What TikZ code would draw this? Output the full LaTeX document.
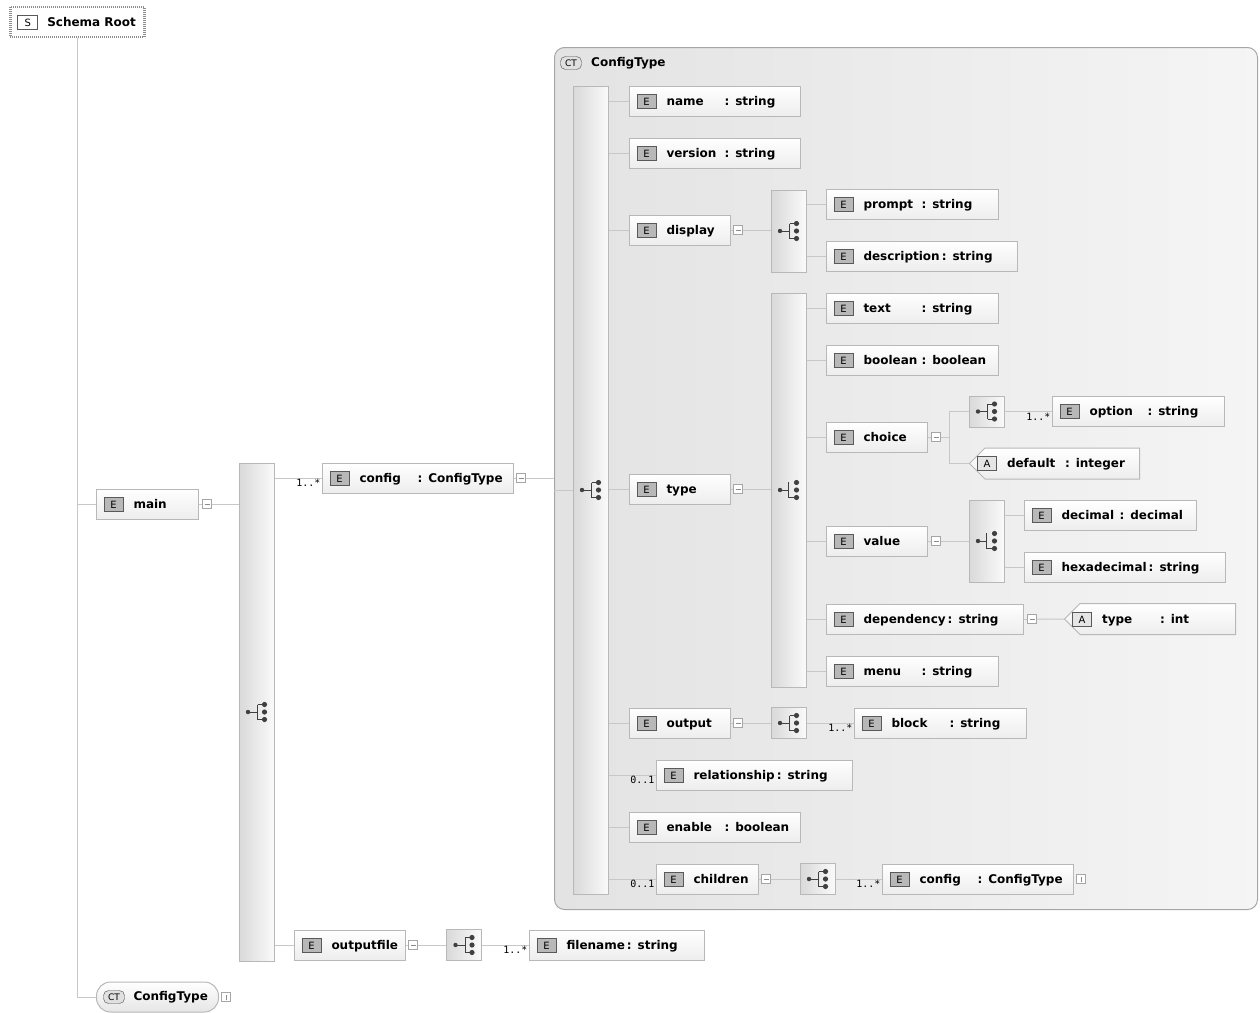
\documentclass[tikz,border=0pt]{standalone}
\usepackage{fontspec}
\setmainfont{DejaVu Sans}
\setmonofont{DejaVu Sans Mono}
\usetikzlibrary{shapes.misc}

\newcommand{\Eicon}{{\setlength\fboxsep{0pt}\setlength\fboxrule{1pt}\fcolorbox{black!65}{black!28}{\makebox[18pt]{\rule[-2.5pt]{0pt}{13pt}\mdseries\fontsize{10}{10}\selectfont E}}}}
\newcommand{\Aicon}{{\setlength\fboxsep{0pt}\setlength\fboxrule{1pt}\fcolorbox{black!65}{black!10}{\makebox[18pt]{\rule[-2.5pt]{0pt}{13pt}\mdseries\fontsize{10}{10}\selectfont A}}}}
\newcommand{\Sicon}{{\setlength\fboxsep{0pt}\setlength\fboxrule{1pt}\fcolorbox{black!65}{white}{\makebox[19pt]{\rule[-2.5pt]{0pt}{13pt}\mdseries\fontsize{10}{10}\selectfont S}}}}
\newcommand{\fld}[1]{\makebox[58pt][l]{#1}}

\tikzset{
  conn/.style={draw=black!22, line width=1pt},
  elem/.style={draw=black!28, line width=1pt, top color=white, bottom color=black!7, anchor=west,
    minimum height=30pt, inner xsep=7pt, inner ysep=0pt, align=left, font=\bfseries\fontsize{12}{14}\selectfont},
  attr/.style={elem, chamfered rectangle, chamfered rectangle corners={north west,south west},
    chamfered rectangle xsep=8pt, chamfered rectangle ysep=8pt, inner xsep=0pt},
  compbox/.style={draw=black!28, line width=1pt, left color=black!15, right color=black!2,
    minimum width=35pt, inner sep=0pt},
  seqbox/.style={compbox, path picture={
    \begin{scope}[shift={(path picture bounding box.center)}, black!75]
      \draw[line width=1pt] (-8.5,0) -- (1,0) (1,-7.5) -- (1,7.5) (1,-7.5) -- (8,-7.5) (1,7.5) -- (8,7.5);
      \fill (-8.5,0) circle (2.2pt) (8,-7.5) circle (2.6pt) (8,0) circle (2.6pt) (8,7.5) circle (2.6pt);
    \end{scope}}},
  choicebox/.style={compbox, path picture={
    \begin{scope}[shift={(path picture bounding box.center)}, black!75]
      \draw[line width=1pt] (-8.5,0) -- (0,0) (0,-8) -- (0,7.5) -- (8,7.5);
      \fill (-8.5,0) circle (2.2pt) (8,-7.5) circle (2.6pt) (8,0) circle (2.6pt) (8,7.5) circle (2.6pt);
    \end{scope}}},
  minusbox/.style={draw=black!35, fill=white, minimum size=9pt, inner sep=0pt, path picture={
    \draw[black!45] ([xshift=2pt]path picture bounding box.west) -- ([xshift=-2pt]path picture bounding box.east);}},
  plusbox/.style={minusbox, path picture={
    \draw[black!45] ([yshift=2pt]path picture bounding box.south) -- ([yshift=-2pt]path picture bounding box.north);}},
  mult/.style={font=\ttfamily\fontsize{10}{10}\selectfont, inner sep=1pt, anchor=north east, pos=1},
  ctframe/.style={draw=black!35, line width=1pt, rounded corners=10pt, left color=black!11, right color=black!4},
  cticon/.style={draw=black!70, fill=black!12, rounded corners=5pt, minimum width=21pt, minimum height=13pt,
    inner sep=0pt, font=\mdseries\fontsize{9}{9}\selectfont},
  ctpill/.style={elem, rounded corners=14pt, bottom color=black!10},
  rootbox/.style={draw=black!45, line width=2.5pt, dash pattern=on 1pt off 1pt, fill=white, anchor=west,
    minimum height=30pt, inner xsep=7pt, inner ysep=0pt, align=left, font=\bfseries\fontsize{12}{14}\selectfont}
}

\begin{document}
\begin{tikzpicture}[x=1pt, y=-1pt]
  \useasboundingbox (0,0) rectangle (1260,1012);

  %nodes
  \node[ctframe, minimum width=703pt, minimum height=862pt, anchor=north west] (ctbox) at (554,47) {};
  \node[cticon] (cticon1) at (571,63) {CT};
  \node[anchor=west, inner sep=0pt, font=\bfseries\fontsize{12}{14}\selectfont] (cttitle) at (591,63) {ConfigType};

  \node[rootbox, text width=120pt] (root) at (9,22) {\Sicon\hspace{9pt}Schema Root};
  \node[elem, text width=88pt] (main) at (96,504) {\Eicon\hspace{10pt}main};
  \node[minusbox] (mmain) at (207,504) {};
  \node[seqbox, minimum height=498pt] (seqmain) at (256.5,712) {};
  \node[elem, text width=177pt] (config) at (322,478) {\Eicon\hspace{10pt}\fld{config}: ConfigType};
  \node[minusbox] (mconfig) at (521,478) {};
  \node[elem, text width=97pt] (outputfile) at (294,945) {\Eicon\hspace{10pt}outputfile};
  \node[minusbox] (mfile) at (413,945) {};
  \node[seqbox, minimum height=31pt] (seqfile) at (464,945) {};
  \node[elem, text width=161pt] (filename) at (529,945) {\Eicon\hspace{10pt}filename\,: string};
  \node[ctpill, text width=108pt] (ctbot) at (96,997) {\hspace*{30pt}ConfigType};
  \node[cticon] (cticon2) at (114,997) {CT};
  \node[plusbox] (pctbot) at (226,997) {};

  \node[seqbox, minimum height=808pt] (seqct) at (590.5,490) {};
  \node[elem, text width=157pt] (name) at (629,101) {\Eicon\hspace{10pt}\fld{name}: string};
  \node[elem, text width=157pt] (version) at (629,153) {\Eicon\hspace{10pt}\fld{version}: string};
  \node[elem, text width=87pt] (display) at (629,230) {\Eicon\hspace{10pt}display};
  \node[minusbox] (mdisplay) at (738,230) {};
  \node[seqbox, minimum height=82pt] (seqdisp) at (788.5,231) {};
  \node[elem, text width=158pt] (prompt) at (826,204.5) {\Eicon\hspace{10pt}\fld{prompt}: string};
  \node[elem, text width=177pt] (description) at (826,256) {\Eicon\hspace{10pt}description\,: string};

  \node[elem, text width=87pt] (type) at (629,489) {\Eicon\hspace{10pt}type};
  \node[minusbox] (mtype) at (738,489) {};
  \node[choicebox, minimum height=394pt] (choicetype) at (788.5,490) {};
  \node[elem, text width=158pt] (text) at (826,308) {\Eicon\hspace{10pt}\fld{text}: string};
  \node[elem, text width=158pt] (boolean) at (826,360) {\Eicon\hspace{10pt}\fld{boolean}: boolean};
  \node[elem, text width=87pt] (choice) at (826,437) {\Eicon\hspace{10pt}choice};
  \node[minusbox] (mchoice) at (936,437) {};
  \coordinate (chsplit) at (949,437);
  \node[seqbox, minimum height=31pt] (seqchoice) at (986.5,411.5) {};
  \node[elem, text width=158pt] (option) at (1052,411.5) {\Eicon\hspace{10pt}\fld{option}: string};
  \node[attr, text width=155pt] (default) at (969,463.5) {\Aicon\hspace{10pt}\fld{default}: integer};
  \node[elem, text width=87pt] (value) at (826,541) {\Eicon\hspace{10pt}value};
  \node[minusbox] (mvalue) at (936,541) {};
  \node[choicebox, minimum height=82pt] (choicevalue) at (986.5,541) {};
  \node[elem, text width=158pt] (decimal) at (1024,515.5) {\Eicon\hspace{10pt}\fld{decimal}: decimal};
  \node[elem, text width=187pt] (hexadecimal) at (1024,567) {\Eicon\hspace{10pt}hexadecimal\,: string};
  \node[elem, text width=183pt] (dependency) at (826,619) {\Eicon\hspace{10pt}dependency\,: string};
  \node[minusbox] (mdep) at (1032,619) {};
  \node[attr, text width=156pt] (typeattr) at (1064,619) {\Aicon\hspace{10pt}\fld{type}: int};
  \node[elem, text width=158pt] (menu) at (826,671) {\Eicon\hspace{10pt}\fld{menu}: string};

  \node[elem, text width=87pt] (output) at (629,723) {\Eicon\hspace{10pt}output};
  \node[minusbox] (mout) at (738,723) {};
  \node[seqbox, minimum height=31pt] (seqout) at (788.5,723) {};
  \node[elem, text width=158pt] (block) at (854,723) {\Eicon\hspace{10pt}\fld{block}: string};
  \node[elem, text width=182pt] (relationship) at (656,775) {\Eicon\hspace{10pt}relationship\,: string};
  \node[elem, text width=157pt] (enable) at (629,827) {\Eicon\hspace{10pt}\fld{enable}: boolean};
  \node[elem, text width=88pt] (children) at (656,879) {\Eicon\hspace{10pt}children};
  \node[minusbox] (mchild) at (766,879) {};
  \node[seqbox, minimum height=31pt] (seqchild) at (817.5,879) {};
  \node[elem, text width=177pt] (config2) at (882,879) {\Eicon\hspace{10pt}\fld{config}: ConfigType};
  \node[plusbox] (pconfig2) at (1081,879) {};

  %edges
  \draw[conn] (root) |- (main);
  \draw[conn] (root) |- (ctbot);
  \draw[conn] (main) -- (mmain);
  \draw[conn] (mmain) -- (mmain -| seqmain.west);
  \draw[conn] (seqmain.east |- config) -- node[mult] (mu1) {1..*} (config);
  \draw[conn] (seqmain.east |- outputfile) -- (outputfile);
  \draw[conn] (config) -- (mconfig);
  \draw[conn] (mconfig) -- (mconfig -| ctbox.west);
  \draw[conn] (outputfile) -- (mfile);
  \draw[conn] (mfile) -- (seqfile);
  \draw[conn] (seqfile) -- node[mult] (mu2) {1..*} (filename);

  \draw[conn] (ctbox.west |- seqct) -- (seqct);
  \draw[conn] (seqct.east |- name) -- (name);
  \draw[conn] (seqct.east |- version) -- (version);
  \draw[conn] (seqct.east |- display) -- (display);
  \draw[conn] (seqct.east |- type) -- (type);
  \draw[conn] (seqct.east |- output) -- (output);
  \draw[conn] (seqct.east |- relationship) -- node[mult] (mu3) {0..1} (relationship);
  \draw[conn] (seqct.east |- enable) -- (enable);
  \draw[conn] (seqct.east |- children) -- node[mult] (mu4) {0..1} (children);

  \draw[conn] (display) -- (mdisplay);
  \draw[conn] (mdisplay) -- (mdisplay -| seqdisp.west);
  \draw[conn] (seqdisp.east |- prompt) -- (prompt);
  \draw[conn] (seqdisp.east |- description) -- (description);

  \draw[conn] (type) -- (mtype);
  \draw[conn] (mtype) -- (mtype -| choicetype.west);
  \draw[conn] (choicetype.east |- text) -- (text);
  \draw[conn] (choicetype.east |- boolean) -- (boolean);
  \draw[conn] (choicetype.east |- choice) -- (choice);
  \draw[conn] (choicetype.east |- value) -- (value);
  \draw[conn] (choicetype.east |- dependency) -- (dependency);
  \draw[conn] (choicetype.east |- menu) -- (menu);

  \draw[conn] (choice) -- (mchoice);
  \draw[conn] (mchoice) -- (chsplit);
  \draw[conn] (chsplit) |- (seqchoice);
  \draw[conn] (chsplit) |- (default);
  \draw[conn] (seqchoice) -- node[mult] (mu5) {1..*} (option);

  \draw[conn] (value) -- (mvalue);
  \draw[conn] (mvalue) -- (mvalue -| choicevalue.west);
  \draw[conn] (choicevalue.east |- decimal) -- (decimal);
  \draw[conn] (choicevalue.east |- hexadecimal) -- (hexadecimal);

  \draw[conn] (dependency) -- (mdep);
  \draw[conn] (mdep) -- (typeattr);

  \draw[conn] (output) -- (mout);
  \draw[conn] (mout) -- (seqout);
  \draw[conn] (seqout) -- node[mult] (mu6) {1..*} (block);

  \draw[conn] (children) -- (mchild);
  \draw[conn] (mchild) -- (seqchild);
  \draw[conn] (seqchild) -- node[mult] (mu7) {1..*} (config2);
\end{tikzpicture}
\end{document}
